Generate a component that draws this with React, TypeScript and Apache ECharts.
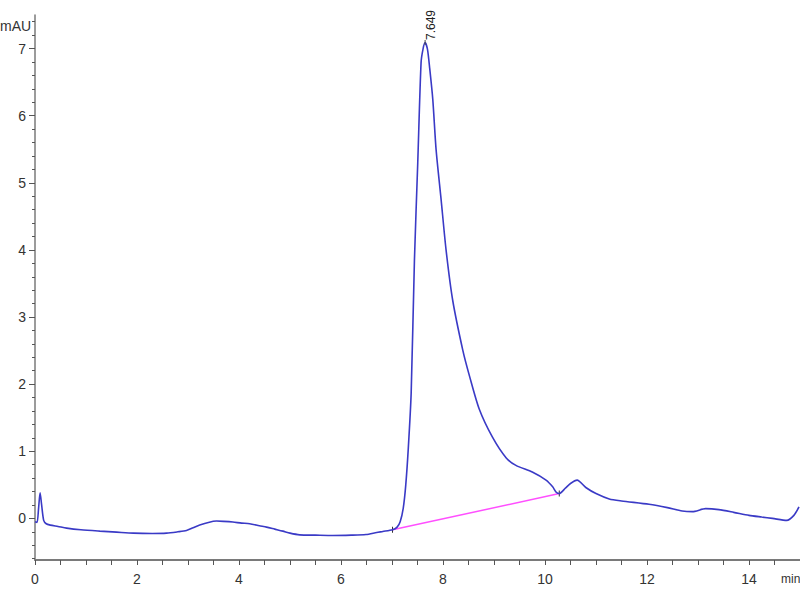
import React, { useEffect, useRef } from "react";
import * as echarts from "echarts";

// Chromatogram trace: retention time (min) and absorbance (mAU)
const times: number[] = [
  0.0, 0.04, 0.07, 0.1, 0.13, 0.17, 0.22, 0.3, 0.45, 0.62, 0.9, 1.27, 1.6, 1.93,
  2.3, 2.58, 2.8, 2.97, 3.1, 3.23, 3.4, 3.56, 3.7, 3.88, 4.05, 4.21, 4.4, 4.54,
  4.7, 4.86, 5.0, 5.19, 5.5, 5.84, 6.2, 6.49, 6.7, 6.82, 7.01, 7.1, 7.16, 7.22,
  7.27, 7.32, 7.376, 7.44, 7.505, 7.57, 7.61, 7.649, 7.695, 7.74, 7.8, 7.865,
  7.963, 8.06, 8.19, 8.39, 8.52, 8.71, 8.97, 9.24, 9.43, 9.75, 10.02, 10.15,
  10.22, 10.28, 10.4, 10.5, 10.63, 10.8, 11.0, 11.26, 11.5, 12.04, 12.4, 12.69,
  12.89, 13.15, 13.41, 13.7, 14.0, 14.25, 14.46, 14.74, 14.88, 14.98,
];
const absorbance: number[] = [
  -0.05, -0.06, 0.15, 0.38, 0.2, -0.03, -0.08, -0.1, -0.12, -0.145, -0.17, -0.19,
  -0.205, -0.22, -0.225, -0.22, -0.2, -0.18, -0.14, -0.1, -0.06, -0.04, -0.045,
  -0.055, -0.07, -0.08, -0.11, -0.13, -0.16, -0.19, -0.22, -0.245, -0.25, -0.255,
  -0.25, -0.24, -0.21, -0.195, -0.17, -0.13, -0.05, 0.15, 0.5, 1.05, 1.87, 3.85,
  5.3, 6.79, 7.0, 7.09, 6.99, 6.7, 6.24, 5.49, 4.75, 4.0, 3.25, 2.5, 2.12, 1.63,
  1.21, 0.9, 0.79, 0.69, 0.57, 0.47, 0.39, 0.37, 0.45, 0.52, 0.57, 0.46, 0.37,
  0.29, 0.26, 0.21, 0.16, 0.11, 0.1, 0.145, 0.13, 0.09, 0.045, 0.02, 0.0, -0.03,
  0.045, 0.17,
];

// Integration baseline (start / end)
const baselineTimes: number[] = [7.01, 10.28];
const baselineValues: number[] = [-0.17, 0.37];

// Peak annotation
const peakTime = 7.649;
const peakValue = 7.09;
const peakLabel = "7.649";

// Axis ticks
const yMajorTicks: number[] = [0, 1, 2, 3, 4, 5, 6, 7];
const yMinorTicks: number[] = [
  -0.6, -0.4, -0.2, 0.2, 0.4, 0.6, 0.8, 1.2, 1.4, 1.6, 1.8, 2.2, 2.4, 2.6, 2.8,
  3.2, 3.4, 3.6, 3.8, 4.2, 4.4, 4.6, 4.8, 5.2, 5.4, 5.6, 5.8, 6.2, 6.4, 6.6, 6.8,
  7.2, 7.4,
];
const xLabels: number[] = [0, 2, 4, 6, 8, 10, 12, 14];

const FONT = "'Liberation Sans Narrow', 'Liberation Sans', Arial, sans-serif";
const AXIS_COLOR = "#7a7a7a";
const TEXT_COLOR = "#333333";

export default function App() {
  const ref = useRef<HTMLDivElement>(null);

  useEffect(() => {
    if (!ref.current) return;
    const chart = echarts.init(ref.current, null, { renderer: "svg" });

    const trace = times.map((t, i) => [t, absorbance[i]]);
    const baseline = baselineTimes.map((t, i) => [t, baselineValues[i]]);

    const yCommon = {
      type: "value" as const,
      min: -0.62,
      max: 7.5,
      position: "left" as const,
      splitLine: { show: false },
    };

    chart.setOption({
      animation: false,
      backgroundColor: "#ffffff",
      grid: { left: 35, right: 0, top: 15, bottom: 40, containLabel: false },
      xAxis: {
        type: "value",
        min: 0,
        max: 15,
        interval: 2,
        axisLine: { show: true, onZero: false, lineStyle: { color: AXIS_COLOR, width: 2 } },
        axisTick: { show: true, length: 5, lineStyle: { color: "#555" } },
        minorTick: { show: true, splitNumber: 4, length: 5, lineStyle: { color: "#555" } },
        axisLabel: {
          customValues: xLabels,
          margin: 12,
          fontSize: 14,
          fontFamily: FONT,
          color: TEXT_COLOR,
        },
        splitLine: { show: false },
      },
      yAxis: [
        {
          ...yCommon,
          axisLine: { show: true, lineStyle: { color: AXIS_COLOR, width: 1.5 } },
          axisTick: { show: true, customValues: yMajorTicks, length: 6, lineStyle: { color: "#555" } },
          axisLabel: {
            customValues: yMajorTicks,
            margin: 9,
            fontSize: 14,
            fontFamily: FONT,
            color: TEXT_COLOR,
          },
        },
        {
          ...yCommon,
          axisLine: { show: false },
          axisTick: { show: true, customValues: yMinorTicks, length: 3, lineStyle: { color: "#555" } },
          axisLabel: { show: false },
        },
      ],
      series: [
        {
          type: "line",
          data: trace,
          yAxisIndex: 0,
          showSymbol: false,
          smooth: 0.25,
          lineStyle: { color: "#3a3ac6", width: 1.6 },
          itemStyle: { color: "#3a3ac6" },
          z: 3,
          markPoint: {
            symbol: "rect",
            symbolSize: [1, 5],
            itemStyle: { color: "#444" },
            data: [{ coord: [peakTime, peakValue], value: peakTime }],
            label: {
              show: true,
              formatter: peakLabel,
              position: "top",
              distance: 0,
              offset: [0, 6],
              rotate: 90,
              align: "left",
              verticalAlign: "middle",
              fontSize: 12,
              fontFamily: FONT,
              color: "#222",
            },
          },
        },
        {
          type: "line",
          data: baseline,
          yAxisIndex: 0,
          showSymbol: true,
          symbol: "rect",
          symbolSize: [1, 6],
          itemStyle: { color: "#333" },
          lineStyle: { color: "#ff4fff", width: 1.5 },
          z: 2,
        },
      ],
      graphic: [
        {
          type: "text",
          x: 0,
          y: 19,
          style: { text: "mAU", fontSize: 14, fontFamily: FONT, fill: TEXT_COLOR },
        },
        {
          type: "text",
          x: 781,
          y: 573,
          style: { text: "min", fontSize: 12, fontFamily: FONT, fill: TEXT_COLOR },
        },
      ],
    });

    return () => chart.dispose();
  }, []);

  return (
    <div
      ref={ref}
      style={{ position: "fixed", left: 0, top: 0, width: 800, height: 600 }}
    />
  );
}
